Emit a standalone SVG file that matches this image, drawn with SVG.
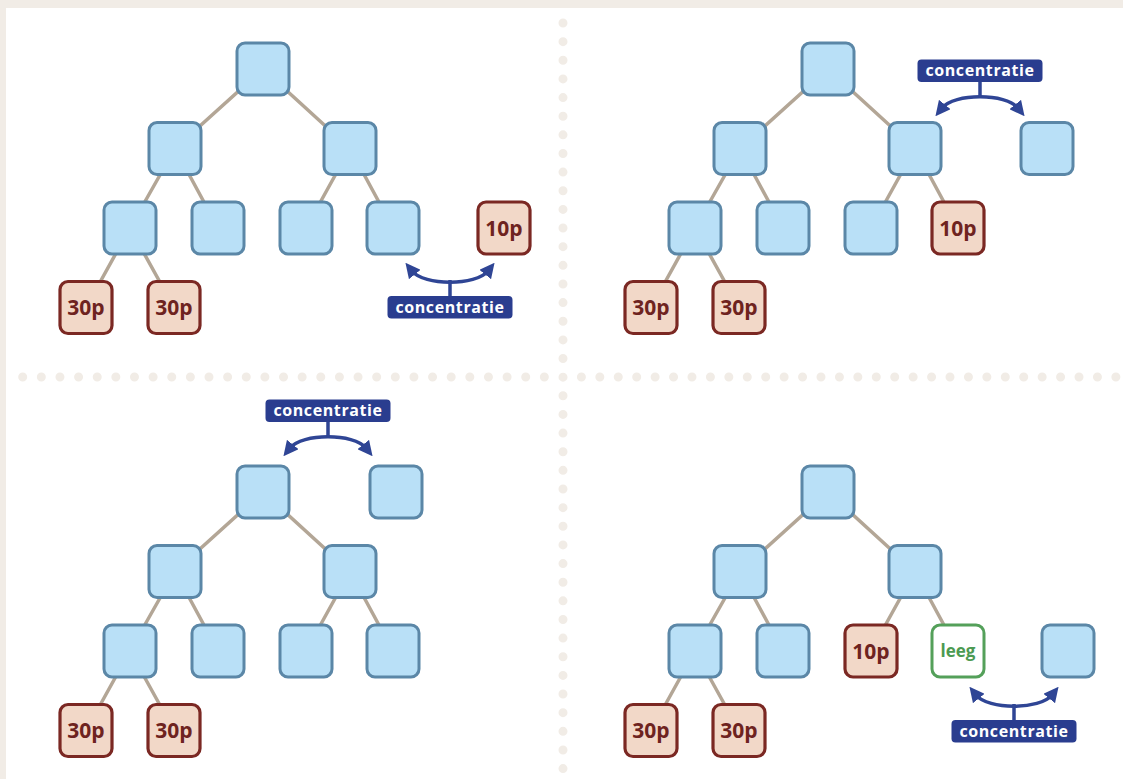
<svg xmlns="http://www.w3.org/2000/svg" width="1123" height="779" viewBox="0 0 1123 779">
<style>
.bx{fill:#b9e0f7;stroke:#5b87a7;stroke-width:3}
.pb{fill:#f2d8c8;stroke:#7b2823;stroke-width:3.2}
.gb{fill:#ffffff;stroke:#54a05a;stroke-width:3}
.pt{font-family:"Open Sans","Noto Sans",sans-serif;font-weight:700;font-size:21px;fill:#6e2320;text-anchor:middle}
.gt{font-family:"Open Sans","Noto Sans",sans-serif;font-weight:700;font-size:17px;fill:#4c9a52;text-anchor:middle}
.lt{font-family:"Open Sans","Noto Sans",sans-serif;font-weight:700;font-size:16px;fill:#ffffff;text-anchor:middle;letter-spacing:0.6px}
.lb{fill:#2a3d8f}
.ed{stroke:#b3a696;stroke-width:3.5;fill:none}
.ar{stroke:#2f4595;stroke-width:3.5;fill:none}
.dt{stroke:#f1ece6;stroke-width:9;stroke-linecap:round;fill:none}
</style>
<defs>
<marker id="ah" viewBox="0 0 10 10" refX="3" refY="5" markerWidth="15" markerHeight="15" markerUnits="userSpaceOnUse" orient="auto-start-reverse"><path d="M0,0 L10,5 L0,10 z" fill="#2f4595"/></marker>
<rect id="b" x="-26" y="-26" width="52" height="52" rx="8"/>
</defs>
<rect x="0" y="0" width="1123" height="779" fill="#f1ece6"/>
<rect x="6" y="8" width="1117" height="771" fill="#ffffff"/>
<g id="separators">
<line class="dt" x1="563" y1="23" x2="563" y2="779" stroke-dasharray="0 18.64"/>
<line class="dt" x1="22.7" y1="377" x2="545" y2="377" stroke-dasharray="0 18.63"/>
<line class="dt" x1="581.4" y1="377" x2="1118" y2="377" stroke-dasharray="0 18.43"/>
</g>
<g id="connectors">
<path class="ed" d="M263,69L175,148.5M263,69L350,148.5M175,148.5L130,228M175,148.5L218,228M350,148.5L306,228M350,148.5L393,228M130,228L86,307.5M130,228L174,307.5"/>
<path class="ed" d="M828,69L740,148.5M828,69L915,148.5M740,148.5L695,228M740,148.5L783,228M915,148.5L871,228M915,148.5L958,228M695,228L651,307.5M695,228L739,307.5"/>
<path class="ed" d="M263,492L175,571.5M263,492L350,571.5M175,571.5L130,651M175,571.5L218,651M350,571.5L306,651M350,571.5L393,651M130,651L86,730.5M130,651L174,730.5"/>
<path class="ed" d="M828,492L740,571.5M828,492L915,571.5M740,571.5L695,651M740,571.5L783,651M915,571.5L871,651M915,571.5L958,651M695,651L651,730.5M695,651L739,730.5"/>
</g>
<g id="panel-tl">
<g id="tl-root"><use href="#b" class="bx" x="263" y="69"/></g>
<g id="tl-a"><use href="#b" class="bx" x="175" y="148.5"/></g>
<g id="tl-b"><use href="#b" class="bx" x="350" y="148.5"/></g>
<g id="tl-a1"><use href="#b" class="bx" x="130" y="228"/></g>
<g id="tl-a2"><use href="#b" class="bx" x="218" y="228"/></g>
<g id="tl-b1"><use href="#b" class="bx" x="306" y="228"/></g>
<g id="tl-b2"><use href="#b" class="bx" x="393" y="228"/></g>
<g id="tl-p1"><use href="#b" class="pb" x="86" y="307.5"/><text class="pt" x="86" y="315">30p</text></g>
<g id="tl-p2"><use href="#b" class="pb" x="174" y="307.5"/><text class="pt" x="174" y="315">30p</text></g>
<g id="tl-p3"><use href="#b" class="pb" x="504" y="228"/><text class="pt" x="504" y="235.5">10p</text></g>
<g id="tl-conc" transform="translate(450,296)">
<path class="ar" d="M-38,-25C-26,-10 26,-10 38,-25" marker-start="url(#ah)" marker-end="url(#ah)"/>
<line class="ar" x1="0" y1="-16" x2="0" y2="1"/>
<rect class="lb" x="-62.5" y="0" width="125" height="22.5" rx="4"/>
<text class="lt" x="0" y="16.5">concentratie</text>
</g>
</g>
<g id="panel-tr">
<g id="tr-root"><use href="#b" class="bx" x="828" y="69"/></g>
<g id="tr-a"><use href="#b" class="bx" x="740" y="148.5"/></g>
<g id="tr-b"><use href="#b" class="bx" x="915" y="148.5"/></g>
<g id="tr-x"><use href="#b" class="bx" x="1047" y="148.5"/></g>
<g id="tr-a1"><use href="#b" class="bx" x="695" y="228"/></g>
<g id="tr-a2"><use href="#b" class="bx" x="783" y="228"/></g>
<g id="tr-b1"><use href="#b" class="bx" x="871" y="228"/></g>
<g id="tr-b2"><use href="#b" class="pb" x="958" y="228"/><text class="pt" x="958" y="235.5">10p</text></g>
<g id="tr-p1"><use href="#b" class="pb" x="651" y="307.5"/><text class="pt" x="651" y="315">30p</text></g>
<g id="tr-p2"><use href="#b" class="pb" x="739" y="307.5"/><text class="pt" x="739" y="315">30p</text></g>
<g id="tr-conc" transform="translate(980,82)">
<path class="ar" d="M-38,26C-26,11 26,11 38,26" marker-start="url(#ah)" marker-end="url(#ah)"/>
<line class="ar" x1="0" y1="-1" x2="0" y2="15"/>
<rect class="lb" x="-62.5" y="-22.5" width="125" height="22.5" rx="4"/>
<text class="lt" x="0" y="-6">concentratie</text>
</g>
</g>
<g id="panel-bl">
<g id="bl-root"><use href="#b" class="bx" x="263" y="492"/></g>
<g id="bl-x"><use href="#b" class="bx" x="396" y="492"/></g>
<g id="bl-a"><use href="#b" class="bx" x="175" y="571.5"/></g>
<g id="bl-b"><use href="#b" class="bx" x="350" y="571.5"/></g>
<g id="bl-a1"><use href="#b" class="bx" x="130" y="651"/></g>
<g id="bl-a2"><use href="#b" class="bx" x="218" y="651"/></g>
<g id="bl-b1"><use href="#b" class="bx" x="306" y="651"/></g>
<g id="bl-b2"><use href="#b" class="bx" x="393" y="651"/></g>
<g id="bl-p1"><use href="#b" class="pb" x="86" y="730.5"/><text class="pt" x="86" y="738">30p</text></g>
<g id="bl-p2"><use href="#b" class="pb" x="174" y="730.5"/><text class="pt" x="174" y="738">30p</text></g>
<g id="bl-conc" transform="translate(328,422)">
<path class="ar" d="M-38,26C-26,11 26,11 38,26" marker-start="url(#ah)" marker-end="url(#ah)"/>
<line class="ar" x1="0" y1="-1" x2="0" y2="15"/>
<rect class="lb" x="-62.5" y="-22.5" width="125" height="22.5" rx="4"/>
<text class="lt" x="0" y="-6">concentratie</text>
</g>
</g>
<g id="panel-br">
<g id="br-root"><use href="#b" class="bx" x="828" y="492"/></g>
<g id="br-a"><use href="#b" class="bx" x="740" y="571.5"/></g>
<g id="br-b"><use href="#b" class="bx" x="915" y="571.5"/></g>
<g id="br-a1"><use href="#b" class="bx" x="695" y="651"/></g>
<g id="br-a2"><use href="#b" class="bx" x="783" y="651"/></g>
<g id="br-b1"><use href="#b" class="pb" x="871" y="651"/><text class="pt" x="871" y="658.5">10p</text></g>
<g id="br-b2"><use href="#b" class="gb" x="958" y="651"/><text class="gt" x="958" y="657">leeg</text></g>
<g id="br-x"><use href="#b" class="bx" x="1068" y="651"/></g>
<g id="br-p1"><use href="#b" class="pb" x="651" y="730.5"/><text class="pt" x="651" y="738">30p</text></g>
<g id="br-p2"><use href="#b" class="pb" x="739" y="730.5"/><text class="pt" x="739" y="738">30p</text></g>
<g id="br-conc" transform="translate(1014,720)">
<path class="ar" d="M-38,-25C-26,-10 26,-10 38,-25" marker-start="url(#ah)" marker-end="url(#ah)"/>
<line class="ar" x1="0" y1="-16" x2="0" y2="1"/>
<rect class="lb" x="-62.5" y="0" width="125" height="22.5" rx="4"/>
<text class="lt" x="0" y="16.5">concentratie</text>
</g>
</g>
</svg>
